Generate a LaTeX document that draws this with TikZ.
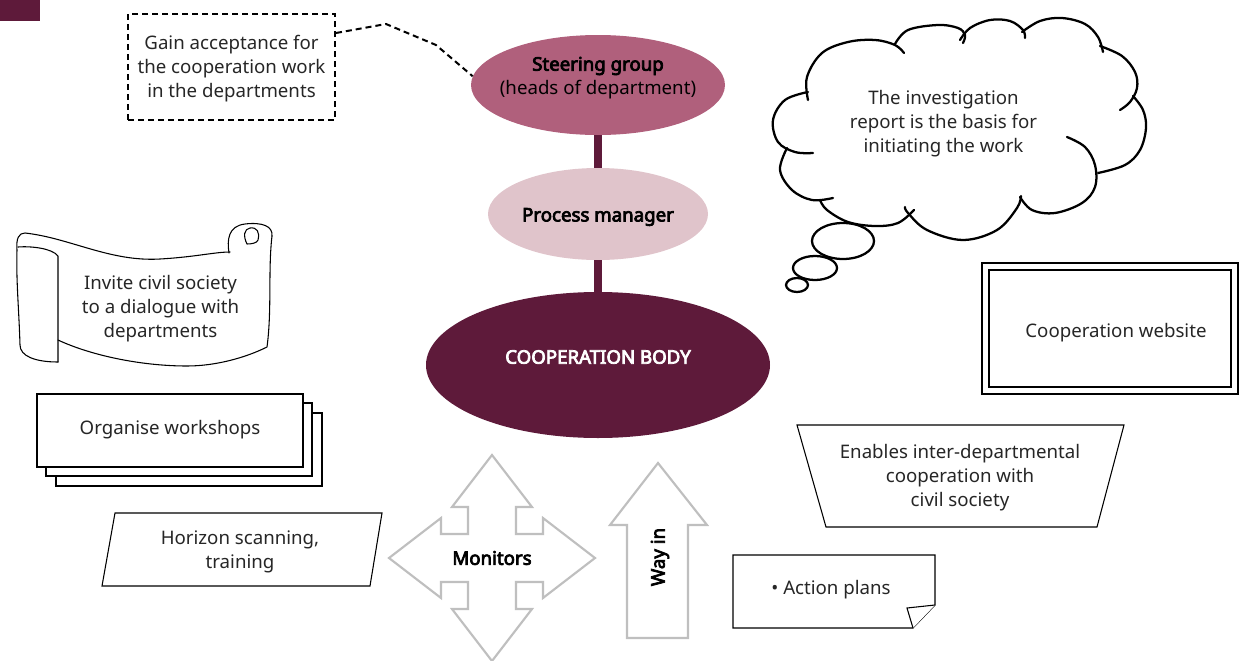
\documentclass[tikz,border=0pt]{standalone}
\usepackage{fontspec}
\setmainfont{Noto Sans}[BoldFont={Noto Sans}, BoldFeatures={FakeBold=4}]
\usetikzlibrary{shapes.geometric,calc}
\definecolor{bodyred}{HTML}{5E1A3A}
\definecolor{steerpink}{HTML}{B0607C}
\definecolor{procpink}{HTML}{E0C4CB}
\definecolor{ink}{HTML}{262626}
\definecolor{arrowgray}{HTML}{BFBFBF}
\begin{document}
\begin{tikzpicture}[x=0.75pt,y=0.75pt,
  txt/.style={font=\fontsize{14}{18}\selectfont, text=ink, align=center, inner sep=0pt},
  btxt/.style={font=\fontsize{14}{18}\selectfont\bfseries, text=black, align=center, inner sep=0pt},
  outline/.style={draw=black, line width=0.8pt, fill=white, line join=miter},
  graybig/.style={draw=arrowgray, line width=1.6pt, fill=white, line join=miter},
  puff/.style={draw=black, line width=1.7pt, line cap=round},
  scrolline/.style={draw=black, line width=0.8pt, line cap=round, line join=round},
  bar/.style={draw=bodyred, line width=6pt},
  oval/.style={ellipse, inner sep=0pt},
]
\useasboundingbox (0,0) rectangle (1240,-661);

% corner tab
\fill[bodyred] (0,0) rectangle (40,-21);

% central hierarchy
\node[oval, fill=steerpink, minimum width=190.5pt, minimum height=75pt] (steer) at (598,-85) {};
\node[oval, fill=procpink, minimum width=165pt, minimum height=69pt] (proc) at (598,-214) {};
\node[oval, fill=bodyred, minimum width=258pt, minimum height=109.5pt] (coop) at (598,-365) {};
\draw[bar] (steer.south) -- (proc.north);
\draw[bar] (proc.south) -- (coop.north);
\node[btxt] (steert) at (598,-78) {Steering group\\\mdseries (heads of department)};
\node[btxt] (proct) at (598,-217) {Process manager};
\node[btxt, text=white] (coopt) at (598,-357) {COOPERATION BODY};

% dashed note
\node[draw=black, line width=1.5pt, dash pattern=on 4.5pt off 3pt, minimum width=155.25pt, minimum height=79.5pt, inner sep=0pt] (gain) at (231.5,-67) {};
\node[txt] (gaint) at (231.5,-68.5) {Gain acceptance for\\the cooperation work\\in the departments};
\coordinate (bend1) at (386,-24);
\coordinate (bend2) at (436,-45);
\draw[line width=1.5pt, dash pattern=on 4.5pt off 3pt] ($(gain.north east)+(0,-20)$) -- (bend1) -- (bend2) -- (steer.176);

% thought cloud: one stroke per puff, each running a little past its neighbour
\begin{scope}[yscale=-1]
\draw[puff] plot[smooth, tension=0.6] coordinates {(808,100) (807,77) (822,53) (848,42) (875,40) (895,45) (904,53)};
\draw[puff] plot[smooth, tension=0.6] coordinates {(895,44) (908,30) (938,25) (958,28) (965,35) (963,43)};
\draw[puff] plot[smooth, tension=0.6] coordinates {(960,40) (970,28) (990,20) (1010,21) (1023,30) (1025,38)};
\draw[puff] plot[smooth, tension=0.6] coordinates {(1022,32) (1040,21) (1062,18) (1085,24) (1098,37) (1103,52)};
\draw[puff] plot[smooth, tension=0.6] coordinates {(1100,46) (1122,56) (1135,72) (1137,88) (1130,102) (1120,110)};
\draw[puff] plot[smooth, tension=0.6] coordinates {(1133,96) (1143,110) (1146,128) (1140,150) (1125,165) (1098,173)};
\draw[puff] plot[smooth, tension=0.6] coordinates {(1067,137) (1085,147) (1095,165) (1095,187) (1082,203) (1055,213) (1032,210) (1020,197)};
\draw[puff] plot[smooth, tension=0.6] coordinates {(1021,196) (1017,208) (997,230) (963,240) (927,230) (908,213) (905,207)};
\draw[puff] plot[smooth, tension=0.6] coordinates {(914,210) (898,223) (875,226) (848,222) (827,210) (820,200)};
\draw[puff] plot[smooth, tension=0.6] coordinates {(787,148) (780,170) (792,190) (812,200) (833,198)};
\draw[puff] plot[smooth, tension=0.6] coordinates {(808,92) (785,100) (773,120) (778,142) (795,152) (813,153)};
\draw[puff] (843,241) ellipse [x radius=31, y radius=18];
\draw[puff] (815,268) ellipse [x radius=22, y radius=12];
\draw[puff] (797,285) ellipse [x radius=11, y radius=7];
\end{scope}
\node[txt] (cloudt) at (943.5,-124) {The investigation\\report is the basis for\\initiating the work};

% scroll
\draw[scrolline] (58,-362) .. controls (35,-362) and (20,-356) .. (20,-345)
  .. controls (19,-310) and (16,-280) .. (17,-250) .. controls (16,-238) and (19,-233) .. (25,-233)
  .. controls (70,-238) and (110,-262) .. (160,-259) .. controls (195,-257) and (215,-252) .. (230,-252);
\draw[scrolline] (18,-247) .. controls (30,-246) and (52,-248) .. (58,-256) -- (58,-362);
\draw[scrolline] (58,-340) .. controls (90,-355) and (140,-366) .. (187,-366)
  .. controls (215,-366) and (245,-358) .. (267,-347)
  .. controls (272,-310) and (268,-270) .. (272,-236);
\draw[scrolline] (229,-253) .. controls (227,-240) and (228,-226) .. (245,-224)
  .. controls (262,-222) and (273,-226) .. (272,-236);
\draw[scrolline] (247,-244) .. controls (243,-236) and (244,-229) .. (250,-228)
  .. controls (257,-227) and (260,-232) .. (258,-240) .. controls (257,-243) and (252,-244) .. (247,-244);
\node[txt] (invitet) at (160.5,-309) {Invite civil society\\to a dialogue with\\departments};

% stacked workshop cards
\draw[outline] (56,-413) rectangle (322,-486);
\draw[outline] (46,-403) rectangle (312,-476);
\draw[outline] (37,-394) rectangle (303,-467);
\node[txt] (orgt) at (170,-429.5) {Organise workshops};

% parallelogram
\draw[outline] (115,-513) -- (382,-513) -- (370,-586) -- (102,-586) -- cycle;
\node[txt] (horizt) at (240,-551.5) {Horizon scanning,\\training};

% four-way arrow
\begin{scope}[shift={(492,-558)}]
\draw[graybig] (0,103) -- (40,51) -- (24,51) -- (24,24) -- (51,24) -- (51,40) -- (103,0)
  -- (51,-40) -- (51,-24) -- (24,-24) -- (24,-51) -- (40,-51) -- (0,-103)
  -- (-40,-51) -- (-24,-51) -- (-24,-24) -- (-51,-24) -- (-51,-40) -- (-103,0)
  -- (-51,40) -- (-51,24) -- (-24,24) -- (-24,51) -- (-40,51) -- cycle;
\end{scope}
\node[btxt] (monit) at (492,-558) {Monitors};

% upward arrow
\draw[graybig] (658,-463) -- (707,-525) -- (688,-525) -- (688,-638) -- (627,-638) -- (627,-525) -- (610,-525) -- cycle;
\node[btxt, rotate=90] (wayt) at (660,-557) {Way in};

% website frame
\draw[draw=black, line width=1.8pt] (982,-263) rectangle (1238,-394);
\draw[draw=black, line width=1.5pt] (989,-270) rectangle (1231,-387);
\node[txt] (webt) at (1116,-332.5) {Cooperation website};

% trapezoid
\draw[outline] (797,-425) -- (1124,-425) -- (1097,-527) -- (826,-527) -- cycle;
\node[txt] (enablet) at (960,-477.5) {Enables inter-departmental\\cooperation with\\civil society};

% note with folded corner
\draw[outline] (733,-555) -- (935,-555) -- (935,-605) -- (913,-628) -- (733,-628) -- cycle;
\draw[outline] (935,-605) -- (907,-608) -- (913,-628);
\node[txt] (actiont) at (831,-589.5) {• Action plans};
\end{tikzpicture}
\end{document}
